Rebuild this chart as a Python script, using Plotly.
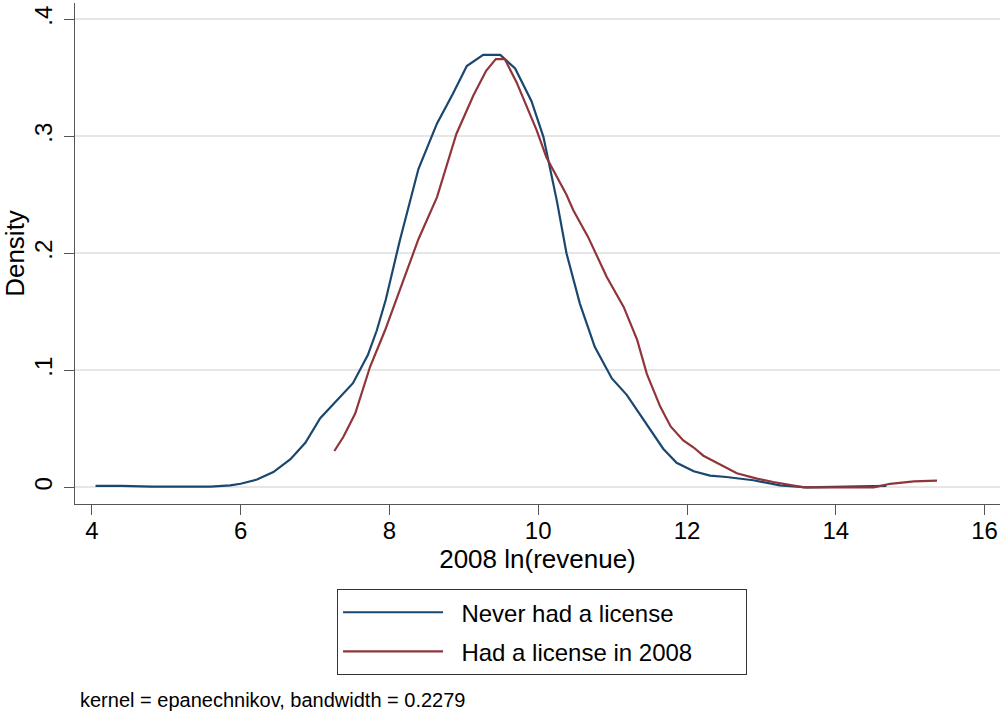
import plotly.graph_objects as go

# Kernel density estimates
never_x = [4.05, 4.4, 4.8, 5.2, 5.6, 5.86, 6.0, 6.22, 6.44, 6.67, 6.87, 7.07, 7.29, 7.51,
           7.71, 7.83, 7.95, 8.14, 8.39, 8.64, 8.85, 9.04, 9.26, 9.49, 9.69, 9.91, 10.07,
           10.25, 10.38, 10.56, 10.76, 10.99, 11.19, 11.46, 11.68, 11.86, 12.09, 12.31,
           12.53, 12.89, 13.25, 13.61, 14.0, 14.3, 14.68]
never_y = [0.0012, 0.0013, 0.0006, 0.0004, 0.0006, 0.0017, 0.003, 0.0066, 0.013, 0.024,
           0.038, 0.059, 0.074, 0.089, 0.113, 0.134, 0.160, 0.211, 0.272, 0.311, 0.336,
           0.360, 0.3695, 0.3695, 0.358, 0.330, 0.2995, 0.245, 0.200, 0.157, 0.120, 0.093,
           0.079, 0.054, 0.033, 0.021, 0.0137, 0.010, 0.0088, 0.006, 0.0017, 0.000, 0.0006,
           0.0012, 0.0012]

lic_x = [7.26, 7.38, 7.54, 7.74, 7.94, 8.1, 8.25, 8.39, 8.64, 8.9, 9.13, 9.3, 9.43, 9.55,
         9.71, 9.98, 10.11, 10.25, 10.38, 10.47, 10.67, 10.92, 11.15, 11.33, 11.46, 11.64,
         11.78, 11.95, 12.09, 12.22, 12.53, 12.67, 12.94, 13.16, 13.57, 14.0, 14.51, 14.73,
         15.05, 15.36]
lic_y = [0.031, 0.043, 0.063, 0.103, 0.134, 0.162, 0.188, 0.212, 0.248, 0.302, 0.335,
         0.356, 0.366, 0.366, 0.346, 0.305, 0.282, 0.265, 0.250, 0.237, 0.214, 0.180, 0.154,
         0.126, 0.097, 0.069, 0.052, 0.040, 0.034, 0.027, 0.017, 0.012, 0.0074, 0.0045,
         0.000, 0.000, 0.000, 0.003, 0.005, 0.0057]

series_names = ["Never had a license", "Had a license in 2008"]
x_ticks = [4, 6, 8, 10, 12, 14, 16]
y_ticks = [0, 0.1, 0.2, 0.3, 0.4]
y_tick_labels = ["0", ".1", ".2", ".3", ".4"]
note_text = "kernel = epanechnikov, bandwidth = 0.2279"

FONT = "Liberation Sans, Arial, Helvetica, sans-serif"
BLUE = "#1a476f"
RED = "#90353b"
NB = "\u00a0"

fig = go.Figure()
fig.add_trace(go.Scatter(x=never_x, y=never_y, mode="lines",
                         name=NB * 2 + series_names[0] + NB * 10,
                         legendgroup="a", line=dict(color=BLUE, width=2.2)))
fig.add_trace(go.Scatter(x=lic_x, y=lic_y, mode="lines",
                         name=NB * 2 + series_names[1],
                         legendgroup="b", line=dict(color=RED, width=2.2)))

fig.update_layout(
    width=1002, height=713,
    margin=dict(l=75, r=2, t=3, b=209),
    paper_bgcolor="white", plot_bgcolor="white",
    font=dict(family=FONT, color="black", size=24),
    showlegend=True,
    legend=dict(
        x=0.2833, y=-0.17, xanchor="left", yanchor="top",
        bordercolor="#333333", borderwidth=1,
        font=dict(size=24, family=FONT),
        itemwidth=100, tracegroupgap=5,
    ),
    xaxis=dict(
        range=[3.774, 16.207], tickvals=x_ticks, ticks="outside", ticklen=10,
        tickcolor="#555555", tickwidth=1.3, showline=True, linecolor="#555555",
        linewidth=1.3, showgrid=False, zeroline=False, ticklabelstandoff=-5,
        tickfont=dict(size=24, family=FONT),
        title=dict(text="2008 ln(revenue)", font=dict(size=26, family=FONT), standoff=4),
    ),
    yaxis=dict(
        range=[-0.01427, 0.4139], tickvals=y_ticks, ticktext=y_tick_labels,
        tickangle=-90, ticks="outside", ticklen=10, tickcolor="#555555", tickwidth=1.3,
        showline=True, linecolor="#555555", linewidth=1.3, ticklabelstandoff=2,
        showgrid=True, gridcolor="#e6e6e6", gridwidth=1.5, zeroline=False,
        tickfont=dict(size=24, family=FONT),
        title=dict(text="Density", font=dict(size=26, family=FONT), standoff=6),
    ),
    annotations=[dict(
        text=note_text, xref="paper", yref="paper", x=0.0032, y=-0.391,
        xanchor="left", yanchor="middle", showarrow=False,
        font=dict(size=20, family=FONT, color="black"),
    )],
)

fig.write_html("out.html", config={"displayModeBar": False},
               post_script="document.body.style.margin='0px';")
